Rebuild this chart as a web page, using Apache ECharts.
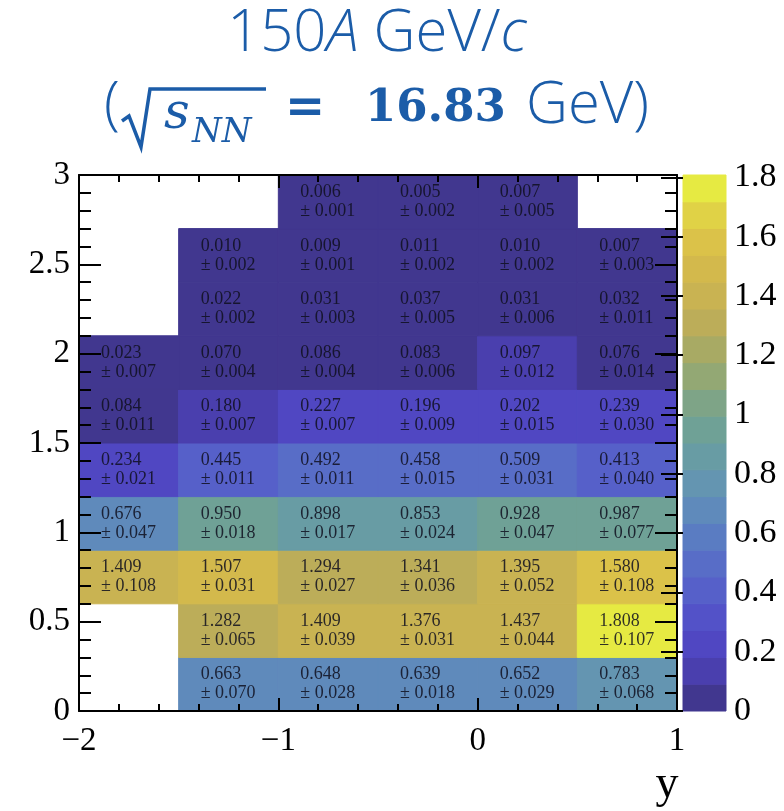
<!DOCTYPE html>
<html>
<head>
<meta charset="utf-8">
<script src="https://cdn.jsdelivr.net/npm/echarts@6/dist/echarts.min.js"></script>
<style>
html, body { margin: 0; padding: 0; background: #fff; }
#chart { width: 784px; height: 811px; }
</style>
</head>
<body>
<div id="chart"></div>
<script>
// bin edges: rapidity (x) and pT (y)
var xEdges = [-2, -1.5, -1, -0.5, 0, 0.5, 1];
var ptEdges = [0, 0.3, 0.6, 0.9, 1.2, 1.5, 1.8, 2.1, 2.4, 2.7, 3.0];

// rows go from low pT to high pT, columns from y=-2 to y=1 (null = empty bin)
var ratio = [
  [null, 0.663, 0.648, 0.639, 0.652, 0.783],
  [null, 1.282, 1.409, 1.376, 1.437, 1.808],
  [1.409, 1.507, 1.294, 1.341, 1.395, 1.580],
  [0.676, 0.950, 0.898, 0.853, 0.928, 0.987],
  [0.234, 0.445, 0.492, 0.458, 0.509, 0.413],
  [0.084, 0.180, 0.227, 0.196, 0.202, 0.239],
  [0.023, 0.070, 0.086, 0.083, 0.097, 0.076],
  [null, 0.022, 0.031, 0.037, 0.031, 0.032],
  [null, 0.010, 0.009, 0.011, 0.010, 0.007],
  [null, null, 0.006, 0.005, 0.007, null]
];
var ratioErr = [
  [null, 0.070, 0.028, 0.018, 0.029, 0.068],
  [null, 0.065, 0.039, 0.031, 0.044, 0.107],
  [0.108, 0.031, 0.027, 0.036, 0.052, 0.108],
  [0.047, 0.018, 0.017, 0.024, 0.047, 0.077],
  [0.021, 0.011, 0.011, 0.015, 0.031, 0.040],
  [0.011, 0.007, 0.007, 0.009, 0.015, 0.030],
  [0.007, 0.004, 0.004, 0.006, 0.012, 0.014],
  [null, 0.002, 0.003, 0.005, 0.006, 0.011],
  [null, 0.002, 0.001, 0.002, 0.002, 0.003],
  [null, null, 0.001, 0.002, 0.005, null]
];

// colour bar: 20 contour levels, tick labels
var barColors = [
  '#41378f', '#4a3fae', '#5047c2', '#5352c8', '#5660c9',
  '#586dc7', '#5a7cc2', '#5f8abb', '#6495b1', '#689ca4',
  '#6fa196', '#7ea487', '#93a874', '#a8aa64', '#bcad59',
  '#c9b352', '#d3b94c', '#dbc249', '#e0d246', '#e6ea42'
];
var barTicks = [0, 0.2, 0.4, 0.6, 0.8, 1, 1.2, 1.4, 1.6, 1.8];

var zMax = 0;
var cells = [];
for (var r = 0; r < ratio.length; r++) {
  for (var c = 0; c < ratio[r].length; c++) {
    if (ratio[r][c] == null) continue;
    zMax = Math.max(zMax, ratio[r][c]);
    cells.push([xEdges[c], xEdges[c + 1], ptEdges[r], ptEdges[r + 1], ratio[r][c], ratioErr[r][c]]);
  }
}

var step = zMax / barColors.length;
var pieces = [];
var bands = [];
for (var i = 0; i < barColors.length; i++) {
  var lo = i * step, hi = (i + 1) * step;
  if (i == barColors.length - 1) pieces.push({gte: lo, lte: hi + 1e-9, color: barColors[i]});
  else pieces.push({gte: lo, lt: hi, color: barColors[i]});
  bands.push([0, 1, lo, hi, (lo + hi) / 2]);
}

var serif = '"Liberation Serif", "DejaVu Serif", serif';
var blue = '#1b5ca8';
var minus = function (v) { return String(v).replace('-', '\u2212'); };

function boxAxis(pos, labels, tickLen, minorLen, extra) {
  var a = {
    type: 'value', gridIndex: 0, position: pos, z: 5,
    axisLine: {show: true, onZero: false, lineStyle: {color: '#000', width: 2}},
    axisTick: {show: true, inside: true, length: tickLen, lineStyle: {color: '#000', width: 2}},
    minorTick: {show: true, splitNumber: 5, length: minorLen, lineStyle: {color: '#000', width: 2}},
    splitLine: {show: false},
    axisLabel: {show: labels, color: '#000', fontFamily: serif, fontSize: 33, formatter: minus}
  };
  return Object.assign(a, extra);
}

function drawBin(params, api) {
  var p0 = api.coord([api.value(0), api.value(3)]);
  var p1 = api.coord([api.value(1), api.value(2)]);
  var col = api.visual('color');
  var rect = {
    type: 'rect',
    shape: {x: p0[0], y: p0[1], width: p1[0] - p0[0], height: p1[1] - p0[1]},
    style: {fill: col, stroke: col, lineWidth: 1}
  };
  if (params.seriesIndex == 1) return rect;
  return {
    type: 'group',
    children: [rect, {
      type: 'text',
      x: p0[0] + 22,
      y: (p0[1] + p1[1]) / 2,
      style: {
        text: api.value(4).toFixed(3) + '\n\u00b1 ' + api.value(5).toFixed(3),
        font: '18px ' + serif,
        fill: 'rgba(15,15,30,0.85)',
        lineHeight: 19,
        verticalAlign: 'middle',
        align: 'left'
      }
    }]
  };
}

var myChart = echarts.init(document.getElementById('chart'));

var option = {
  backgroundColor: '#fff',
  animation: false,
  grid: [
    {left: 79, right: 107, top: 175, bottom: 100},
    {left: 683, width: 43, top: 175, bottom: 100}
  ],
  xAxis: [
    boxAxis('bottom', true, 13, 7, {min: -2, max: 1, interval: 1, axisLabel: {
      show: true, color: '#000', fontFamily: serif, fontSize: 33, margin: 14, formatter: minus}}),
    boxAxis('top', false, 13, 7, {min: -2, max: 1, interval: 1}),
    {type: 'value', gridIndex: 1, min: 0, max: 1, show: false}
  ],
  yAxis: [
    boxAxis('left', true, 22, 12, {min: 0, max: 3, interval: 0.5, axisLabel: {
      show: true, color: '#000', fontFamily: serif, fontSize: 33, margin: 9, formatter: minus}}),
    boxAxis('right', false, 22, 12, {min: 0, max: 3, interval: 0.5}),
    {
      type: 'value', gridIndex: 1, position: 'right', min: 0, max: zMax, z: 5,
      axisLine: {show: false},
      axisTick: {show: true, inside: true, length: 22, customValues: barTicks, lineStyle: {color: '#000', width: 2}},
      splitLine: {show: false},
      axisLabel: {customValues: barTicks, color: '#000', fontFamily: serif, fontSize: 34, margin: 8}
    }
  ],
  visualMap: {
    type: 'piecewise', show: false, dimension: 4, seriesIndex: [0, 1], pieces: pieces
  },
  series: [
    {
      type: 'custom', xAxisIndex: 0, yAxisIndex: 0, z: 2,
      renderItem: drawBin,
      encode: {x: [0, 1], y: [2, 3]},
      data: cells
    },
    {
      type: 'custom', xAxisIndex: 2, yAxisIndex: 2, z: 2,
      renderItem: drawBin,
      encode: {x: [0, 1], y: [2, 3]},
      data: bands
    }
  ],
  graphic: [
    {
      type: 'text', x: 377, y: 34, z: 10,
      style: {
        text: '{n|150}{i|A}{n| GeV/}{i|c}',
        align: 'center', verticalAlign: 'middle',
        rich: {
          n: {fontFamily: '"Open Sans", sans-serif', fontWeight: 300, fontSize: 58, fill: blue},
          i: {fontFamily: '"Open Sans", sans-serif', fontWeight: 300, fontStyle: 'italic', fontSize: 58, fill: blue}
        }
      }
    },
    {type: 'text', x: 104, y: 106, style: {text: '(', font: '300 58px "Open Sans", sans-serif', fill: blue, verticalAlign: 'middle'}},
    {
      type: 'polyline', z: 10,
      shape: {points: [[122, 121], [129, 116], [141, 147], [150, 89], [266, 89]]},
      style: {stroke: blue, lineWidth: 3.5, fill: null, lineJoin: 'miter'}
    },
    {type: 'text', x: 164, y: 115, style: {text: 's', font: 'italic 50px "DejaVu Serif", serif', fill: blue, verticalAlign: 'middle'}},
    {type: 'text', x: 192, y: 133, style: {text: 'NN', font: 'italic 34px "DejaVu Serif", serif', fill: blue, verticalAlign: 'middle'}},
    {type: 'text', x: 285, y: 110, style: {text: '=', font: 'bold 48px "DejaVu Sans", sans-serif', fill: blue, verticalAlign: 'middle'}},
    {type: 'text', x: 365, y: 109, style: {text: '16.83', font: 'bold 45px "DejaVu Serif", serif', fill: blue, verticalAlign: 'middle'}},
    {type: 'text', x: 526, y: 106, style: {text: 'GeV)', font: '300 58px "Open Sans", sans-serif', fill: blue, verticalAlign: 'middle'}},
    {type: 'text', x: 667, y: 785, style: {text: 'y', font: '46px ' + serif, fill: '#000', align: 'center', verticalAlign: 'middle'}}
  ]
};

myChart.setOption(option);
</script>
</body>
</html>
